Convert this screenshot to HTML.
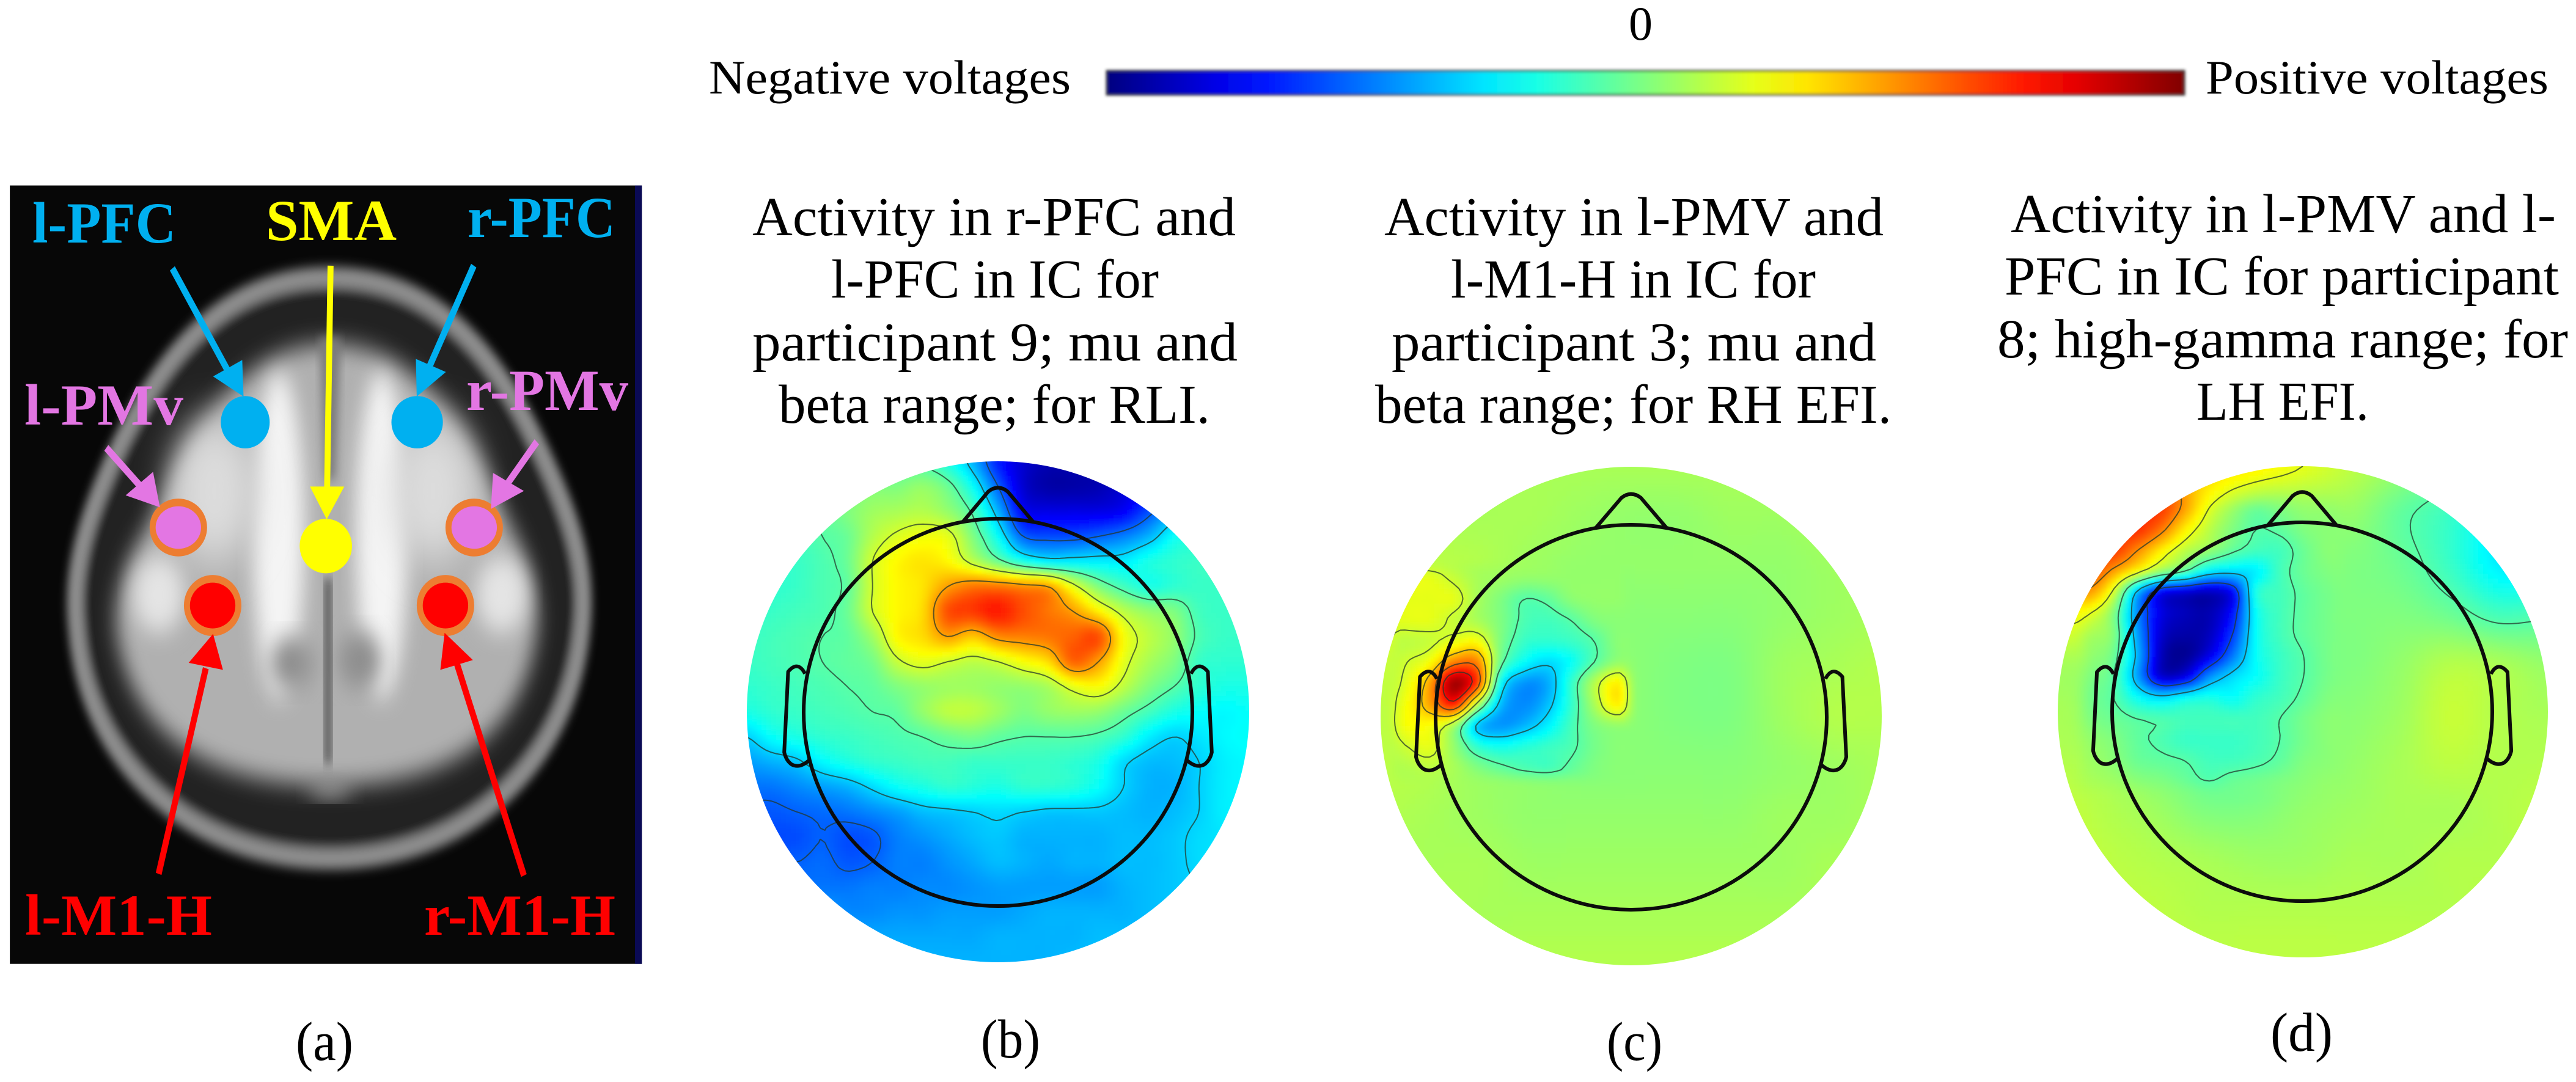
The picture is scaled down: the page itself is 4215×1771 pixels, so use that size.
<!DOCTYPE html>
<html lang="en">
<head>
<meta charset="utf-8">
<title>EEG activity topographies</title>
<style>
html,body{margin:0;padding:0;background:#fff;width:4215px;height:1771px;overflow:hidden}
svg{display:block}
text{font-family:"Liberation Serif",serif;fill:#000}
.lab{font-weight:bold;font-size:95px}
.ttl{font-size:90px}
.top{font-size:78px}
</style>
</head>
<body>
<svg id="fig" xmlns="http://www.w3.org/2000/svg" width="4215" height="1771" viewBox="0 0 4215 1771">
<defs>
<filter id="b3" x="-5%" y="-5%" width="110%" height="110%"><feGaussianBlur stdDeviation="3"/></filter>
<filter id="b2" x="-2%" y="-30%" width="104%" height="160%"><feGaussianBlur stdDeviation="2.4"/></filter>
<filter id="b10" x="-20%" y="-20%" width="140%" height="140%"><feGaussianBlur stdDeviation="10"/></filter>
<filter id="b22" x="-30%" y="-30%" width="160%" height="160%"><feGaussianBlur stdDeviation="22"/></filter>
<filter id="b40" x="-50%" y="-50%" width="200%" height="200%"><feGaussianBlur stdDeviation="40"/></filter>
<linearGradient id="jetGrad" x1="0" x2="1" y1="0" y2="0"></linearGradient>
</defs>
<rect x="0" y="0" width="4215" height="1771" fill="#fff"/>

<!-- Panel (a) brain image -->
<g>
<svg x="0" y="250" width="1100" height="1400" viewBox="0 0 1568 1568" preserveAspectRatio="none">
  <rect x="23" y="60" width="1474" height="1427" fill="#070707"/>
  <rect x="1481" y="60" width="16" height="1427" fill="#0a0a55"/>
  <path filter="url(#b10)" fill="#242424" stroke="#8e8e8e" stroke-width="38" d="M770,228 C1000,228 1150,350 1270,560 C1340,680 1372,770 1358,870 C1330,1120 1090,1295 770,1295 C450,1295 200,1120 178,870 C165,770 195,680 270,550 C390,350 540,228 770,228Z"/>
  <path filter="url(#b22)" fill="#b0b0b0" d="M770,350 C960,350 1090,490 1170,650 C1230,740 1262,800 1252,880 C1222,1060 1060,1160 770,1160 C480,1160 305,1060 272,880 C262,800 298,740 370,650 C450,490 580,350 770,350Z"/>
  <ellipse cx="650" cy="700" rx="60" ry="300" fill="#f4f4f4" filter="url(#b22)"/>
  <ellipse cx="890" cy="700" rx="60" ry="300" fill="#f4f4f4" filter="url(#b22)"/>
  <ellipse cx="500" cy="620" rx="100" ry="130" fill="#dcdcdc" filter="url(#b40)"/>
  <ellipse cx="1010" cy="620" rx="100" ry="130" fill="#dcdcdc" filter="url(#b40)"/>
  <ellipse cx="370" cy="810" rx="60" ry="70" fill="#e4e4e4" filter="url(#b22)"/>
  <ellipse cx="1170" cy="810" rx="60" ry="70" fill="#e4e4e4" filter="url(#b22)"/>
  <ellipse cx="680" cy="935" rx="50" ry="48" fill="#8e8e8e" filter="url(#b22)"/>
  <ellipse cx="840" cy="930" rx="50" ry="52" fill="#8e8e8e" filter="url(#b22)"/>
  <rect x="757" y="780" width="16" height="340" fill="#4a4a4a" filter="url(#b10)"/>
  <path d="M745,340 L795,340 L782,600 L758,600Z" fill="#7a7a7a" filter="url(#b10)"/>
  <ellipse cx="770" cy="1165" rx="50" ry="18" fill="#9a9a9a" filter="url(#b22)"/>

  <g>
    <ellipse cx="572" cy="494" rx="57" ry="48" fill="#00b0f0"/>
    <ellipse cx="973" cy="494" rx="60" ry="48" fill="#00b0f0"/>
    <ellipse cx="760" cy="721" rx="61" ry="50" fill="#ffff00"/>
    <ellipse cx="416" cy="687" rx="60" ry="46" fill="#e376e3" stroke="#ed7d31" stroke-width="14"/>
    <ellipse cx="1106" cy="687" rx="60" ry="46" fill="#e376e3" stroke="#ed7d31" stroke-width="14"/>
    <ellipse cx="496" cy="830" rx="60" ry="49" fill="#ff0000" stroke="#ed7d31" stroke-width="14"/>
    <ellipse cx="1039" cy="830" rx="60" ry="49" fill="#ff0000" stroke="#ed7d31" stroke-width="14"/>
  </g>
  <g>
    <g fill="#00b0f0" stroke="#00b0f0" stroke-width="14">
      <line x1="402" y1="212" x2="535" y2="405"/><polygon stroke="none" points="568,447 497,410 565,380"/>
      <line x1="1105" y1="207" x2="1000" y2="395"/><polygon stroke="none" points="972,447 970,378 1040,402"/>
    </g>
    <g fill="#ffff00" stroke="#ffff00" stroke-width="14">
      <line x1="771" y1="207" x2="763" y2="615"/><polygon stroke="none" points="762,672 723,612 803,612"/>
    </g>
    <g fill="#e376e3" stroke="#e376e3" stroke-width="14">
      <line x1="248" y1="541" x2="335" y2="618"/><polygon stroke="none" points="373,650 293,628 357,585"/>
      <line x1="1252" y1="530" x2="1185" y2="605"/><polygon stroke="none" points="1145,653 1150,587 1222,620"/>
    </g>
    <g fill="#ff0000" stroke="#ff0000" stroke-width="14">
      <line x1="370" y1="1322" x2="480" y2="945"/><polygon stroke="none" points="497,882 440,935 520,948"/>
      <line x1="1222" y1="1325" x2="1065" y2="935"/><polygon stroke="none" points="1037,880 1027,948 1103,930"/>
    </g>
  </g>
</svg>
<text class="lab" x="53" y="397" textLength="235" lengthAdjust="spacingAndGlyphs" style="fill:#00b0f0">l-PFC</text>
<text class="lab" x="435" y="393" textLength="214" lengthAdjust="spacingAndGlyphs" style="fill:#ffff00">SMA</text>
<text class="lab" x="765" y="388" textLength="242" lengthAdjust="spacingAndGlyphs" style="fill:#00b0f0">r-PFC</text>
<text class="lab" x="40" y="695" textLength="260" lengthAdjust="spacingAndGlyphs" style="fill:#e376e3">l-PMv</text>
<text class="lab" x="763" y="671" textLength="265" lengthAdjust="spacingAndGlyphs" style="fill:#e376e3">r-PMv</text>
<text class="lab" x="41" y="1530" textLength="306" lengthAdjust="spacingAndGlyphs" style="fill:#ff0000">l-M1-H</text>
<text class="lab" x="694" y="1530" textLength="313" lengthAdjust="spacingAndGlyphs" style="fill:#ff0000">r-M1-H</text>
</g>

<!-- Colour bar -->
<g>
  <text class="top" x="2665" y="65" textLength="39" lengthAdjust="spacingAndGlyphs">0</text>
  <text class="top" x="1160" y="153" textLength="592" lengthAdjust="spacingAndGlyphs">Negative voltages</text>
  <text class="top" x="3609" y="153" textLength="561" lengthAdjust="spacingAndGlyphs">Positive voltages</text>
  <rect x="1811" y="116" width="1763" height="39" fill="url(#jetGrad)" stroke="#333" stroke-width="3" filter="url(#b2)"/>
</g>

<!-- Titles -->
<g>
  <text class="ttl" x="1231" y="385" textLength="791" lengthAdjust="spacingAndGlyphs">Activity in r-PFC and</text>
  <text class="ttl" x="1360" y="487" textLength="536" lengthAdjust="spacingAndGlyphs">l-PFC in IC for</text>
  <text class="ttl" x="1231" y="590" textLength="794" lengthAdjust="spacingAndGlyphs">participant 9; mu and</text>
  <text class="ttl" x="1274" y="692" textLength="706" lengthAdjust="spacingAndGlyphs">beta range; for RLI.</text>
</g>
<g>
  <text class="ttl" x="2265" y="385" textLength="817" lengthAdjust="spacingAndGlyphs">Activity in l-PMV and</text>
  <text class="ttl" x="2374" y="487" textLength="597" lengthAdjust="spacingAndGlyphs">l-M1-H in IC for</text>
  <text class="ttl" x="2277" y="590" textLength="793" lengthAdjust="spacingAndGlyphs">participant 3; mu and</text>
  <text class="ttl" x="2250" y="692" textLength="845" lengthAdjust="spacingAndGlyphs">beta range; for RH EFI.</text>
</g>
<g>
  <text class="ttl" x="3290" y="380" textLength="892" lengthAdjust="spacingAndGlyphs">Activity in l-PMV and l-</text>
  <text class="ttl" x="3280" y="482" textLength="907" lengthAdjust="spacingAndGlyphs">PFC in IC for participant</text>
  <text class="ttl" x="3268" y="585" textLength="934" lengthAdjust="spacingAndGlyphs">8; high-gamma range; for</text>
  <text class="ttl" x="3594" y="687" textLength="282" lengthAdjust="spacingAndGlyphs">LH EFI.</text>
</g>

<!-- Panel letters -->
<text class="ttl" x="484" y="1735" textLength="94" lengthAdjust="spacingAndGlyphs">(a)</text>
<text class="ttl" x="1605" y="1731" textLength="97" lengthAdjust="spacingAndGlyphs">(b)</text>
<text class="ttl" x="2629" y="1735" textLength="91" lengthAdjust="spacingAndGlyphs">(c)</text>
<text class="ttl" x="3715" y="1720" textLength="102" lengthAdjust="spacingAndGlyphs">(d)</text>

<g id="topos"></g>
</svg>

<script>
// Colour-scale values (0 = dark blue, 50 = green, 100 = dark red).
const colorbarTicks = [0,5,10,15,20,25,30,35,40,45,50,55,60,65,70,75,80,85,90,95,100];

const panelBRows = [
[45,45,45,45,45,45,45,45,40,30,15,8,5,5,5,5,5,5,5,5,5],
[46,46,46,47,48,50,50,52,48,38,22,8,4,4,5,8,12,15,15,15,15],
[46,46,46,47,50,53,54,55,52,45,30,12,10,10,10,12,20,28,28,28,28],
[44,44,44,46,48,55,59,61,60,50,38,22,20,20,22,25,30,38,40,40,40],
[42,42,43,45,48,58,63,65,63,56,48,40,36,36,36,36,40,42,43,43,43],
[42,42,43,45,47,58,63,65,72,76,76,74,72,60,50,44,40,42,43,43,43],
[42,43,44,45,48,58,63,66,80,82,85,80,76,72,64,56,52,50,44,43,43],
[43,44,45,46,47,53,63,66,72,68,74,75,76,78,80,62,56,52,45,43,43],
[43,44,45,46,47,49,57,60,58,56,58,62,66,78,72,60,54,50,43,42,42],
[42,43,44,45,46,47,50,52,53,53,52,52,54,60,62,56,50,46,42,40,40],
[40,42,43,44,45,46,47,52,56,56,53,50,52,53,52,48,44,40,38,37,38],
[33,38,40,42,43,44,45,46,48,49,47,46,46,46,45,42,36,33,35,37,38],
[28,30,32,37,40,42,43,44,44,43,43,43,43,42,40,34,31,31,33,36,37],
[24,24,26,28,30,34,38,40,42,41,40,42,42,41,38,33,30,30,33,36,37],
[21,21,22,23,24,26,28,31,32,33,34,33,32,32,32,31,30,31,33,36,36],
[22,20,20,22,20,21,25,27,29,31,32,30,30,30,30,31,31,32,34,35,36],
[23,22,22,23,21,22,25,25,27,29,31,30,29,30,30,31,31,32,34,35,36],
[25,24,24,24,24,25,25,26,26,27,28,28,28,28,28,30,31,32,33,34,35],
[28,28,28,28,26,26,27,27,28,28,28,29,30,30,30,30,31,32,33,33,34],
[29,29,29,29,29,29,29,29,29,29,30,30,30,30,31,31,31,32,33,33,34],
[30,30,30,30,30,30,30,30,30,30,30,30,30,31,31,31,32,32,33,33,34]
];
const panelBLevels = [22,33,46,58,72];

const panelCRows = [
[54,54,54,54,54,54,54,54,54,54,54],
[54,54,54,54,53,52,52,53,53,54,54],
[55,56,55,53,52,52,52,52,52,53,54],
[60,59,55,52,51,51,51,51,52,53,54],
[57,56,54,52,51,51,50,50,53,54,55],
[56,55,54,52,51,51,50,50,53,55,55],
[56,55,53,52,51,51,51,51,52,53,54],
[55,54,53,52,52,52,52,52,53,53,54],
[54,54,54,53,53,53,53,53,53,54,54],
[55,55,54,54,54,54,54,54,54,54,55],
[55,55,55,55,55,55,55,55,55,55,55]
];
const panelCDetailRows = [
[54,55,55,54,53,53,53,53,52,52,52,52],
[57,60,60,57,54,53,52,52,52,52,52,51],
[59,60,60,60,54,50,46,47,51,52,52,51],
[59,60,60,57,54,50,45,44,46,50,51,51],
[55,56,57,60,62,50,43,42,43,46,51,51],
[55,58,62,75,75,48,38,34,38,46,52,52],
[56,60,72,97,82,38,27,29,42,55,64,53],
[58,62,72,85,56,31,26,31,42,54,64,53],
[58,62,62,54,32,27,30,36,44,50,52,51],
[55,58,60,52,42,39,41,43,45,49,51,51],
[54,55,56,54,50,47,45,44,47,50,51,51],
[54,54,54,53,52,51,50,50,50,50,51,51]
];
const panelCLevels = [33,46,58,68,78,88];

const panelDRows = [
[62,66,80,68,64,60,56,52,48,44,42],
[66,78,80,60,50,51,52,47,43,37,35],
[66,78,66,46,46,50,50,48,43,36,35],
[62,60,46,42,46,50,50,50,48,44,45],
[54,52,46,42,46,50,50,52,55,54,52],
[54,52,48,46,47,50,51,53,57,55,54],
[55,54,50,46,46,50,52,54,56,55,55],
[57,55,53,50,50,52,53,54,54,55,56],
[57,56,55,54,53,53,54,54,55,55,56],
[56,56,56,55,55,55,55,55,55,56,56],
[56,56,56,56,56,56,56,56,56,56,56]
];
const panelDDetailRows = [
[70,72,74,78,80,76,66,60,56,54,55,55,55],
[76,78,80,82,82,72,60,53,48,50,52,52,52],
[78,80,82,83,76,64,56,50,46,47,50,51,51],
[80,82,82,74,64,56,52,47,44,44,48,51,51],
[76,80,72,62,52,46,36,34,36,44,48,50,51],
[72,72,58,30,12,8,6,12,40,44,47,49,50],
[64,60,50,26,10,6,5,14,38,44,47,49,50],
[58,54,50,28,8,4,6,18,38,44,47,49,50],
[56,52,48,30,6,2,10,24,38,43,46,49,50],
[54,50,46,28,8,10,26,34,38,43,46,49,50],
[54,49,46,38,34,38,40,38,42,44,47,50,51],
[54,50,48,46,45,44,44,44,44,46,49,51,52],
[54,52,50,47,45,43,43,43,44,46,49,51,52],
[55,53,51,48,47,46,44,44,45,47,50,51,52],
[55,54,53,51,50,48,46,48,49,50,51,52,52],
[55,55,54,53,52,52,51,51,51,52,52,53,53]
];
const panelDLevels = [18,32,46,60,74,88];

const NS = 'http://www.w3.org/2000/svg';

function jet(v){
  const t = v/100, c = x => Math.round(255*Math.max(0,Math.min(1,x)));
  return 'rgb('+c(Math.min(4*t-1.5,-4*t+4.5))+','+c(Math.min(4*t-0.5,-4*t+3.5))+','+c(Math.min(4*t+0.5,-4*t+2.5))+')';
}
function cubic(a,b,c,d,t){
  return b + 0.5*t*(c-a + t*(2*a-5*b+4*c-d + t*(3*(b-c)+d-a)));
}
function sample(rows,u,v){
  const nr = rows.length, nc = rows[0].length;
  const fx = Math.max(0,Math.min(1,u))*(nc-1), fy = Math.max(0,Math.min(1,v))*(nr-1);
  const ix = Math.min(nc-2,Math.floor(fx)), iy = Math.min(nr-2,Math.floor(fy));
  const tx = fx-ix, ty = fy-iy, col = [];
  for(let k=-1;k<=2;k++){
    const r = rows[Math.max(0,Math.min(nr-1,iy+k))];
    const at = i => r[Math.max(0,Math.min(nc-1,i))];
    col.push(cubic(at(ix-1),at(ix),at(ix+1),at(ix+2),tx));
  }
  return cubic(col[0],col[1],col[2],col[3],ty);
}
function smooth(e){ e=Math.max(0,Math.min(1,e)); return e*e*(3-2*e); }

const panels = [
 {id:'b', base:panelBRows, levels:panelBLevels, cx:1633, cy:1165, rx:411, ry:410, hx:1633, hy:1166, hrx:318, hry:317},
 {id:'c', base:panelCRows, detail:panelCDetailRows, levels:panelCLevels, cx:2669, cy:1172, rx:410, ry:408, hx:2669, hy:1174, hrx:320, hry:315,
  zoom:[92,1378,42,1465], box:[100,760,300,960]},
 {id:'d', base:panelDRows, detail:panelDDetailRows, levels:panelDLevels, cx:3768, cy:1165, rx:401, ry:402, hx:3767, hy:1165, hrx:311, hry:310,
  zoom:[258,1498,40,1440], box:[280,1000,100,1000]}
];

function valueAt(p,u,v){
  let val = sample(p.base,u,v);
  if(p.detail){
    const zx = p.zoom[0]+u*(p.zoom[1]-p.zoom[0]), zy = p.zoom[2]+v*(p.zoom[3]-p.zoom[2]);
    const b = p.box;
    const du = (zx-b[0])/(b[1]-b[0]), dv = (zy-b[2])/(b[3]-b[2]);
    if(du>=0&&du<=1&&dv>=0&&dv<=1){
      const w = smooth(Math.min(du,1-du)*12)*smooth(Math.min(dv,1-dv)*12);
      val = val*(1-w)+sample(p.detail,du,dv)*w;
    }
  }
  return val;
}

const CELL = 8;
const root = document.getElementById('topos');

// colour bar gradient
const grad = document.getElementById('jetGrad');
colorbarTicks.forEach(v=>{
  const s = document.createElementNS(NS,'stop');
  s.setAttribute('offset',(v)+'%');
  s.setAttribute('stop-color',jet(v));
  grad.appendChild(s);
});

panels.forEach(p=>{
  const g = document.createElementNS(NS,'g');
  
  
  root.appendChild(g);

  const defs = document.createElementNS(NS,'clipPath');
  defs.setAttribute('id','clip-'+p.id);
  const ce = document.createElementNS(NS,'ellipse');
  ce.setAttribute('cx',p.cx); ce.setAttribute('cy',p.cy);
  ce.setAttribute('rx',p.rx); ce.setAttribute('ry',p.ry);
  defs.appendChild(ce);
  g.appendChild(defs);

  const clip = document.createElementNS(NS,'g');
  clip.setAttribute('clip-path','url(#clip-'+p.id+')');
  g.appendChild(clip);
  const cells = document.createElementNS(NS,'g');
  cells.setAttribute('filter','url(#b3)');
  cells.setAttribute('shape-rendering','crispEdges');
  clip.appendChild(cells);

  const x0 = p.cx-p.rx-CELL*2, y0 = p.cy-p.ry-CELL*2;
  const nx = Math.ceil((2*p.rx+CELL*4)/CELL), ny = Math.ceil((2*p.ry+CELL*4)/CELL);
  const field = [];
  for(let j=0;j<=ny;j++){
    const line = [];
    for(let i=0;i<=nx;i++){
      const px = x0+i*CELL, py = y0+j*CELL;
      const u = (px-(p.cx-p.rx))/(2*p.rx), v = (py-(p.cy-p.ry))/(2*p.ry);
      line.push(valueAt(p,u,v));
    }
    field.push(line);
  }
  for(let j=0;j<ny;j++){
    for(let i=0;i<nx;i++){
      const px = x0+i*CELL, py = y0+j*CELL;
      const ex = (px+CELL/2-p.cx)/(p.rx+30), ey = (py+CELL/2-p.cy)/(p.ry+30);
      if(ex*ex+ey*ey>1) continue;
      const r = document.createElementNS(NS,'rect');
      r.setAttribute('x',px);
      r.setAttribute('y',py);
      r.setAttribute('width',CELL);
      r.setAttribute('height',CELL);
      r.setAttribute('fill',jet((field[j][i]+field[j+1][i+1])/2));
      
      
      cells.appendChild(r);
    }
  }

  // contour lines by marching squares over the same field
  p.levels.forEach(level=>{
    let d = '';
    const pt = (a,b,ax,ay,bx,by)=>{
      const t = (level-a)/(b-a);
      return (x0+(ax+(bx-ax)*t)*CELL).toFixed(1)+' '+(y0+(ay+(by-ay)*t)*CELL).toFixed(1);
    };
    for(let j=0;j<ny;j++){
      for(let i=0;i<nx;i++){
        const a=field[j][i], b=field[j][i+1], c=field[j+1][i+1], e=field[j+1][i];
        const pts=[];
        if((a<level)!==(b<level)) pts.push(pt(a,b,i,j,i+1,j));
        if((b<level)!==(c<level)) pts.push(pt(b,c,i+1,j,i+1,j+1));
        if((e<level)!==(c<level)) pts.push(pt(e,c,i,j+1,i+1,j+1));
        if((a<level)!==(e<level)) pts.push(pt(a,e,i,j,i,j+1));
        if(pts.length>=2) d+='M'+pts[0]+'L'+pts[1];
        if(pts.length===4) d+='M'+pts[2]+'L'+pts[3];
      }
    }
    const path = document.createElementNS(NS,'path');
    path.setAttribute('d',d);
    path.setAttribute('fill','none');
    path.setAttribute('stroke','#24382c');
    path.setAttribute('stroke-width','2');
    path.setAttribute('stroke-opacity','0.75');
    
    
    clip.appendChild(path);
  });

  // head outline, nose and ears
  const X = n => (p.hx+n*p.hrx).toFixed(1), Y = n => (p.hy+n*p.hry).toFixed(1);
  const head = document.createElementNS(NS,'ellipse');
  head.setAttribute('cx',p.hx);
  head.setAttribute('cy',p.hy);
  head.setAttribute('rx',p.hrx);
  head.setAttribute('ry',p.hry);
  head.setAttribute('fill','none');
  head.setAttribute('stroke','#0c0c0c');
  head.setAttribute('stroke-width','6');
  
  
  g.appendChild(head);

  const shape = (name,d)=>{
    const s = document.createElementNS(NS,'path');
    s.setAttribute('d',d);
    s.setAttribute('fill','none');
    s.setAttribute('stroke','#0c0c0c');
    s.setAttribute('stroke-width','6');
    s.setAttribute('stroke-linejoin','round');
    
    
    g.appendChild(s);
  };
  shape('nose','M'+X(-.18)+' '+Y(-.985)+'L'+X(-.05)+' '+Y(-1.14)+'Q'+X(0)+' '+Y(-1.18)+' '+X(.05)+' '+Y(-1.14)+'L'+X(.18)+' '+Y(-.985));
  const ear = s => 'M'+X(s*.993)+' '+Y(-.2)+'Q'+X(s*1.03)+' '+Y(-.27)+' '+X(s*1.08)+' '+Y(-.21)
     +'L'+X(s*1.09)+' '+Y(.0)+'L'+X(s*1.1)+' '+Y(.206)+'Q'+X(s*1.09)+' '+Y(.25)+' '+X(s*1.06)+' '+Y(.27)
     +'Q'+X(s*1.02)+' '+Y(.29)+' '+X(s*.973)+' '+Y(.248);
  shape('left-ear',ear(-1));
  shape('right-ear',ear(1));
});
</script>
</body>
</html>
